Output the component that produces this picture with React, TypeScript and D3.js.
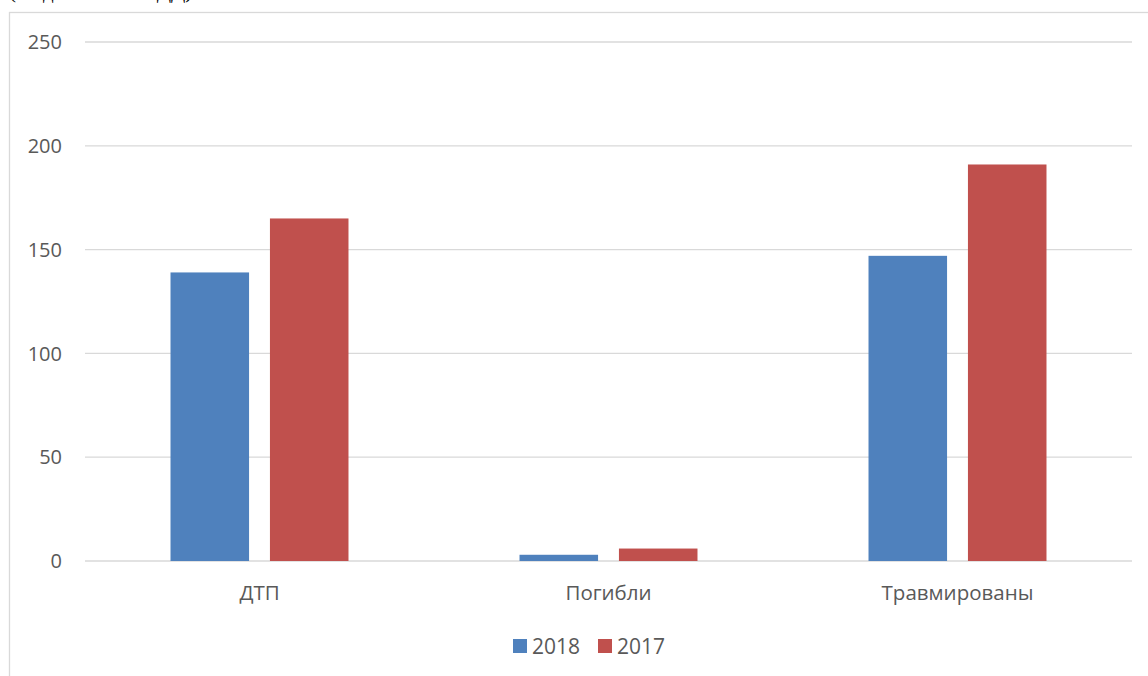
import { useEffect, useRef } from "react";
import * as d3 from "d3";

const categories = ["ДТП", "Погибли", "Травмированы"];
const series = ["2018", "2017"];
const values2018 = [139, 3, 147];
const values2017 = [165, 6, 191];
const yTicks = [0, 50, 100, 150, 200, 250];

const colors: Record<string, string> = { "2018": "#4f81bd", "2017": "#c0504d" };

export default function App() {
  const svgRef = useRef<SVGSVGElement | null>(null);
  const width = 1148;
  const height = 676;

  useEffect(() => {
    if (!svgRef.current) return;
    const svg = d3.select(svgRef.current);
    svg.selectAll("*").remove(); // clear previous

    const font = "'Open Sans', 'Liberation Sans', sans-serif";
    const left = 85, right = 1132, top = 42, bottom = 561;

    // caption above chart, mostly cut off by the page edge
    svg.append("text")
      .attr("x", 9)
      .attr("y", -2)
      .style("font-family", "'Liberation Serif', 'DejaVu Serif', serif")
      .style("font-size", "21px")
      .style("fill", "#000")
      .text("(по данным ГИБДД)");

    // chart area border
    svg.append("rect")
      .attr("x", 9.5)
      .attr("y", 12.5)
      .attr("width", 1160)
      .attr("height", 700)
      .attr("fill", "#fff")
      .attr("stroke", "#d9d9d9")
      .attr("stroke-width", 1.3);

    const x = d3.scaleBand<string>().domain(categories).range([left, right]);
    const x1 = d3.scaleBand<string>().domain(series).range([0, x.bandwidth()]).paddingInner(0.21).paddingOuter(0.86);
    const y = d3.scaleLinear().domain([0, 250]).range([bottom, top]);

    // gridlines + tick labels
    yTicks.forEach(t => {
      svg.append("line")
        .attr("x1", left)
        .attr("x2", right)
        .attr("y1", y(t))
        .attr("y2", y(t))
        .attr("stroke", "#d9d9d9")
        .attr("stroke-width", 1.3);
      svg.append("text")
        .attr("x", 62)
        .attr("y", y(t))
        .attr("dy", "0.36em")
        .attr("text-anchor", "end")
        .style("font-family", font)
        .style("font-size", "20px")
        .style("fill", "#595959")
        .text(t);
    });

    const data = categories.map((c, i) => ({ cat: c, vals: [values2018[i], values2017[i]] }));

    data.forEach(d => {
      series.forEach((s, j) => {
        svg.append("rect")
          .attr("x", (x(d.cat) ?? 0) + (x1(s) ?? 0))
          .attr("y", y(d.vals[j]))
          .attr("width", x1.bandwidth())
          .attr("height", y(0) - y(d.vals[j]))
          .attr("fill", colors[s]);
      });
      svg.append("text")
        .attr("x", (x(d.cat) ?? 0) + x.bandwidth() / 2)
        .attr("y", 600)
        .attr("text-anchor", "middle")
        .style("font-family", font)
        .style("font-size", "20.5px")
        .style("fill", "#595959")
        .text(d.cat);
    });

    // legend
    const legendX = [513, 598];
    series.forEach((s, i) => {
      svg.append("rect")
        .attr("x", legendX[i])
        .attr("y", 639)
        .attr("width", 14)
        .attr("height", 14)
        .attr("fill", colors[s]);
      svg.append("text")
        .attr("x", legendX[i] + 19)
        .attr("y", 654)
        .style("font-family", font)
        .style("font-size", "21px")
        .style("fill", "#595959")
        .text(s);
    });
  }, []);

  return (
    <svg
      ref={svgRef}
      width={width}
      height={height}
      style={{ position: "absolute", left: 0, top: 0, background: "#fff" }}
    />
  );
}
